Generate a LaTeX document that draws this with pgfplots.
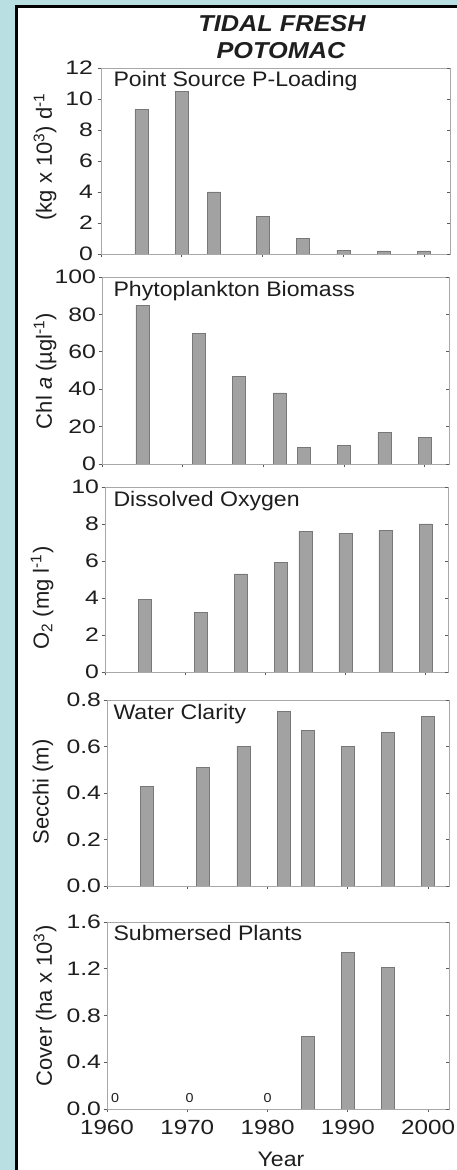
\documentclass[border=0pt]{standalone}
\usepackage{fontspec}
\setmainfont{Liberation Sans}[FakeStretch=1.1]
\newfontfamily\narrowsans{Liberation Sans}
\newfontfamily\tickfont{Liberation Sans}[FakeStretch=1.27]
\newfontfamily\xtickfont{Liberation Sans}[FakeStretch=1.18]
\usepackage{pgfplots}
\pgfplotsset{compat=1.18}
\definecolor{bgblue}{HTML}{B9DFE2}
\definecolor{barfill}{HTML}{A2A2A2}
\definecolor{baredge}{HTML}{787878}
\definecolor{framec}{HTML}{A8A8A8}
\definecolor{tickc}{HTML}{5A5A5A}
\definecolor{txt}{HTML}{1E1E1E}

\pgfplotsset{
  panel/.style={
    scale only axis, anchor=south west,
    xmin=1960, ymin=0,
    axis line style={framec, line width=0.8pt},
    xtick={1960,1970,1980,1990,2000},
    xtick pos=left, ytick pos=left,
    tick align=outside,
    major tick length=3.5pt,
    tick style={tickc, line width=0.7pt},
    xticklabels={},
    /pgf/number format/assume math mode=true,
    yticklabel style={font=\tickfont\fontsize{19.5}{20}\selectfont, text=txt, xshift=1pt},
    ybar, bar width=13pt,
  },
  rticks/.style={
    scale only axis, anchor=south west,
    xmin=1960, ymin=0,
    axis line style={draw=none},
    xtick=\empty,
    ytick pos=right, tick align=inside,
    yticklabels={},
    major tick length=3.5pt,
    tick style={tickc, line width=0.7pt},
  },
  barsty/.style={fill=barfill, draw=baredge, line width=0.7pt},
}

\begin{document}
\begin{tikzpicture}[x=1pt,y=1pt]
\fill[bgblue] (-6,-6) rectangle (462,1176);
\fill[white] (16.5,-6) rectangle (462,1163.5);
\draw[black, line width=3pt] (16.5,-6) -- (16.5,1163.5) -- (462,1163.5);

% Panel 1
\begin{axis}[panel, at={(101pt,916pt)}, width=349pt, height=186pt,
  xmax=2003.2, ymax=12, ytick={0,2,...,12},
  yticklabel style={xshift=-2pt}]
\addplot[barsty] coordinates {(1965,9.3) (1970,10.5) (1974,4.0) (1980,2.4) (1985,1.0) (1990,0.25) (1995,0.2) (2000,0.2)};
\end{axis}
\begin{axis}[rticks, at={(101pt,916pt)}, width=349pt, height=186pt,
  xmax=2003.2, ymax=12, ytick={0,2,...,12}]
\end{axis}

% Panel 2
\begin{axis}[panel, at={(102pt,706pt)}, width=347pt, height=187pt,
  xmax=2003, ymax=100, ytick={0,20,...,100}]
\addplot[barsty] coordinates {(1965,85) (1972,70) (1977,47) (1982,38) (1985,9) (1990,10) (1995,17) (2000,14)};
\end{axis}
\begin{axis}[rticks, at={(102pt,706pt)}, width=347pt, height=187pt,
  xmax=2003, ymax=100, ytick={0,20,...,100}]
\end{axis}

% Panel 3
\begin{axis}[panel, at={(105pt,498pt)}, width=343pt, height=185pt,
  xmax=2002.8, ymax=10, ytick={0,2,...,10}]
\addplot[barsty] coordinates {(1965,3.9) (1972,3.2) (1977,5.3) (1982,5.9) (1985,7.6) (1990,7.5) (1995,7.65) (2000,8.0)};
\end{axis}
\begin{axis}[rticks, at={(105pt,498pt)}, width=343pt, height=185pt,
  xmax=2002.8, ymax=10, ytick={0,2,...,10}]
\end{axis}

% Panel 4
\begin{axis}[panel, at={(107pt,284pt)}, width=342pt, height=186pt,
  xmax=2002.6, ymax=0.8, ytick={0,0.2,0.4,0.6,0.8},
  yticklabel style={/pgf/number format/.cd, fixed, fixed zerofill, precision=1}]
\addplot[barsty] coordinates {(1965,0.43) (1972,0.51) (1977,0.60) (1982,0.75) (1985,0.67) (1990,0.60) (1995,0.66) (2000,0.73)};
\end{axis}
\begin{axis}[rticks, at={(107pt,284pt)}, width=342pt, height=186pt,
  xmax=2002.6, ymax=0.8, ytick={0,0.2,0.4,0.6,0.8}]
\end{axis}

% Panel 5
\begin{axis}[panel, at={(107pt,61pt)}, width=342pt, height=187pt,
  xmax=2002.6, ymax=1.6, ytick={0,0.4,0.8,1.2,1.6},
  yticklabel style={/pgf/number format/.cd, fixed, fixed zerofill, precision=1},
  xticklabels={1960,1970,1980,1990,2000},
  xticklabel style={font=\xtickfont\fontsize{20.5}{21}\selectfont, text=txt, yshift=-4pt}]
\addplot[barsty] coordinates {(1985,0.62) (1990,1.34) (1995,1.21)};
\node[font=\fontsize{13}{13}\selectfont, text=txt] at (axis cs:1961,0.095) {0};
\node[font=\fontsize{13}{13}\selectfont, text=txt] at (axis cs:1970.3,0.095) {0};
\node[font=\fontsize{13}{13}\selectfont, text=txt] at (axis cs:1980,0.095) {0};
\end{axis}
\begin{axis}[rticks, at={(107pt,61pt)}, width=342pt, height=187pt,
  xmax=2002.6, ymax=1.6, ytick={0,0.4,0.8,1.2,1.6}]
\end{axis}

% Titles
\node[anchor=base, font=\fontsize{23}{24}\selectfont\bfseries\itshape, text=txt] at (282,1138.3) {TIDAL FRESH};
\node[anchor=base, font=\fontsize{23}{24}\selectfont\bfseries\itshape, text=txt] at (281,1111.7) {POTOMAC};

% Panel titles
\begin{scope}[every node/.style={anchor=base west, font=\fontsize{21}{22}\selectfont, text=txt}]
\node at (110,1083.3) {Point Source P-Loading};
\node at (110,873.3) {Phytoplankton Biomass};
\node at (110,663) {Dissolved Oxygen};
\node at (110,450) {Water Clarity};
\node at (110,229.3) {Submersed Plants};
\end{scope}

% Y labels
\begin{scope}[every node/.style={rotate=90, anchor=center, font=\narrowsans\fontsize{22}{23}\selectfont, text=txt}]
\node at (45,1013) {(kg x 10\textsuperscript{3}) d\textsuperscript{-1}};
\node at (45,799) {Chl \textit{a} (µgl\textsuperscript{-1})};
\node at (42,572) {O\textsubscript{2} (mg l\textsuperscript{-1})};
\node at (43,378) {Secchi (m)};
\node at (45,164) {Cover (ha x 10\textsuperscript{3})};
\end{scope}

% X label
\node[anchor=base, font=\fontsize{21}{22}\selectfont, text=txt] at (281,4) {Year};

\pgfresetboundingbox
\path[use as bounding box] (0,0) rectangle (456,1170);
\end{tikzpicture}
\end{document}
